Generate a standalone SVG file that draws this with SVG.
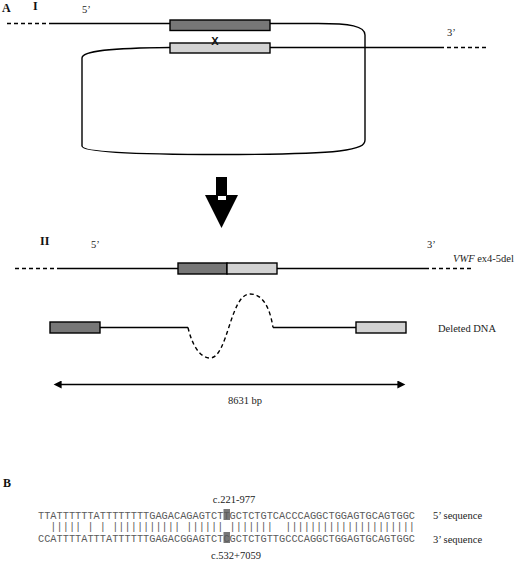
<svg xmlns="http://www.w3.org/2000/svg" width="520" height="562" viewBox="0 0 520 562">
<style>
.ln{fill:none;stroke:#000;stroke-width:1.4}
.ds{fill:none;stroke:#000;stroke-width:1.4;stroke-dasharray:4,3}
.dk{fill:#777;stroke:#000;stroke-width:1.4}
.lt{fill:#d2d2d2;stroke:#000;stroke-width:1.4}
.lb{font-family:"Liberation Serif",serif;font-size:10.5px;fill:#222}
.bd{font-family:"Liberation Serif",serif;font-size:12px;font-weight:bold;fill:#111}
.sq{font-family:"Liberation Mono",monospace;font-size:10.8px;fill:#5a5a5a}
</style>
<defs>
<marker id="ah" viewBox="0 0 10 10" refX="2" refY="5" markerWidth="10" markerHeight="8" markerUnits="userSpaceOnUse" orient="auto-start-reverse">
<path d="M0,0 L10,5 L0,10 z" fill="#000"/>
</marker>
</defs>
<rect width="520" height="562" fill="#fff"/>
<g id="labels-A">
<text class="bd" x="2" y="12">A</text>
<text class="bd" x="33" y="10">I</text>
<text class="lb" x="82" y="13">5’</text>
<text class="lb" x="447" y="36">3’</text>
</g>
<g id="connectors">
<path class="ds" d="M7,23.5 H52"/>
<path class="ln" d="M52,23.5 H170"/>
<path class="ln" d="M270,23.5 H318 C350,23.5 365,26 365,35 V140 C365,150 345,154.5 220,154.5 C120,154.5 82,151 82,146 V58 C82,51 110,48 170,47.5"/>
<path class="ln" d="M270,47.5 H440"/>
<path class="ds" d="M440,47.5 H488"/>
<path class="ds" d="M15,268.5 H58"/>
<path class="ln" d="M58,268.5 H178"/>
<path class="ln" d="M277,268.5 H425"/>
<path class="ds" d="M425,268.5 H472"/>
<path class="ln" d="M100,327.5 H188"/>
<path class="ds" d="M188,327.5 C192,345 200,358 210,358 C228,358 230,294 250,294 C266,294 271,315 273,327.5"/>
<path class="ln" d="M273,327.5 H356"/>
<path class="ln" stroke-width="1.8" d="M60,384.5 H399" marker-start="url(#ah)" marker-end="url(#ah)"/>
</g>
<g id="box-dark-I"><rect class="dk" x="170" y="20" width="100" height="10.5"/></g>
<g id="box-light-I"><rect class="lt" x="170" y="43" width="100" height="10"/></g>
<g id="crossover"><text x="215" y="44.5" text-anchor="middle" font-family="Liberation Sans,sans-serif" font-size="11" font-weight="bold" fill="#111">X</text></g>
<g id="big-arrow">
<rect x="216" y="177" width="11" height="20" fill="#000"/>
<path d="M205,195 H238 L221.5,228 z" fill="#000"/>
<rect x="218" y="196" width="8" height="4" fill="#fff"/>
</g>
<g id="labels-II">
<text class="bd" x="40" y="245">II</text>
<text class="lb" x="91" y="248">5’</text>
<text class="lb" x="427" y="248">3’</text>
<text class="lb" x="453" y="262"><tspan font-style="italic">VWF</tspan> ex4-5del</text>
</g>
<g id="fusion-box">
<rect class="dk" x="178" y="263" width="49" height="11"/>
<rect class="lt" x="227" y="263" width="50" height="11"/>
</g>
<g id="deleted-dark"><rect class="dk" x="50" y="322" width="50" height="11"/></g>
<g id="deleted-light"><rect class="lt" x="356" y="322" width="50" height="11"/></g>
<g id="deleted-label"><text class="lb" x="438" y="331.5">Deleted DNA</text></g>
<g id="size-label"><text class="lb" x="245" y="404" text-anchor="middle" font-size="10">8631 bp</text></g>
<g id="panel-B">
<text class="bd" x="3" y="487">B</text>
<text class="lb" x="234" y="503" text-anchor="middle">c.221-977</text>
<rect x="223.5" y="509" width="6.5" height="11" fill="#777"/>
<rect x="223.5" y="532" width="6.5" height="11" fill="#777"/>
<text class="sq" x="38" y="519" textLength="377" lengthAdjust="spacingAndGlyphs">TTATTTTTTATTTTTTTTGAGACAGAGTCTTGCTCTGTCACCCAGGCTGGAGTGCAGTGGC</text>
<text class="sq" x="38" y="530" textLength="377" lengthAdjust="spacingAndGlyphs">&#160;&#160;|||||&#160;|&#160;|&#160;|||||||||||&#160;||||||&#160;|||||||&#160;&#160;|||||||||||||||||||||</text>
<text class="sq" x="38" y="542" textLength="377" lengthAdjust="spacingAndGlyphs">CCATTTTATTTATTTTTTGAGACGGAGTCTCGCTCTGTTGCCCAGGCTGGAGTGCAGTGGC</text>
<text class="lb" x="433" y="519">5’ sequence</text>
<text class="lb" x="433" y="543">3’ sequence</text>
<text class="lb" x="236" y="559" text-anchor="middle">c.532+7059</text>
</g>
</svg>
